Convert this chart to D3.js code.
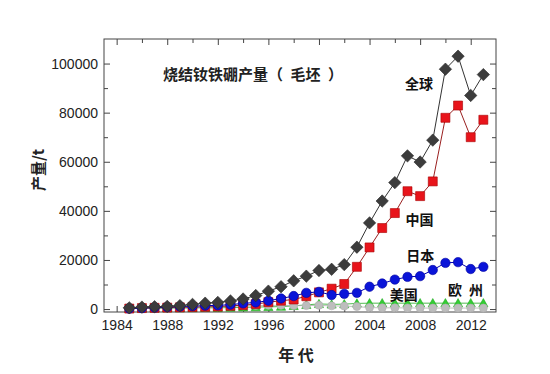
<!DOCTYPE html>
<html>
<head>
<meta charset="utf-8">
<script src="https://cdn.jsdelivr.net/npm/d3@7"></script>
<style>
html,body{margin:0;padding:0;background:#fff;}
svg{display:block;}
</style>
</head>
<body>
<svg id="chart" width="550" height="374"></svg>
<script>
const years = d3.range(1985, 2014);
const world = [500, 800, 950, 1100, 1400, 1900, 2400, 2700, 3300, 4100, 5500, 7300, 9100, 11500, 13400, 15700, 16200, 18100, 25200, 35100, 44000, 51500, 62400, 59900, 68800, 97700, 103000, 87000, 95500];
const china = [200, 400, 500, 600, 700, 800, 900, 1000, 1300, 1600, 2000, 2800, 3400, 3900, 5200, 6800, 8300, 10200, 17200, 25100, 33000, 39100, 48000, 46000, 52000, 77900, 82900, 70000, 77100];
const japan = [200, 400, 600, 800, 1000, 1200, 1400, 1500, 1800, 2300, 2700, 3400, 4300, 5300, 6600, 7000, 5700, 6200, 6600, 9100, 10400, 12000, 13100, 13400, 15900, 18800, 19100, 16300, 17200];
const usa = [200, 300, 400, 500, 600, 700, 800, 900, 1100, 1300, 1400, 1500, 1500, 1400, 1400, 1500, 1300, 1200, 1000, 600, 500, 500, 450, 400, 400, 400, 400, 400, 400];
const europe = [300, 300, 350, 400, 400, 450, 500, 500, 600, 700, 800, 900, 1000, 1300, 1700, 2100, 1900, 2000, 2300, 2400, 2400, 2400, 2400, 2400, 2400, 2400, 2400, 2400, 2400];
const yMajor = [0, 20000, 40000, 60000, 80000, 100000];
const yMinor = [10000, 30000, 50000, 70000, 90000];
const xMajor = [1984, 1988, 1992, 1996, 2000, 2004, 2008, 2012];
const xMinor = [1986, 1990, 1994, 1998, 2002, 2006, 2010];
const title = "烧结钕铁硼产量（\u2002毛坯\u2002）";
const xTitle = "年 代";
const yTitle = "产量/t";
const seriesLabels = [
  {text: "全球", year: 2006.8, value: 89800},
  {text: "中国", year: 2006.85, value: 34400},
  {text: "日本", year: 2006.9, value: 19600},
  {text: "美国", year: 2005.6, value: 3700},
  {text: "欧\u2002州", year: 2010.2, value: 5700}
];

const svg = d3.select("#chart");
const L = 104, R = 496, T = 39, B = 312;
const x = d3.scaleLinear().domain([1983, 2014]).range([L, R]);
const y = d3.scaleLinear().domain([-1200, 110000]).range([B, T]);
const axisColor = "#444";
const textColor = "#222";
const numFont = "'Liberation Sans', Arial, sans-serif";
const cjkFont = "'Noto Sans CJK SC', sans-serif";

function styleAxis(g) {
  g.select(".domain").remove();
  g.selectAll(".tick line").attr("stroke", axisColor).attr("stroke-width", 1);
  g.selectAll(".tick text").attr("fill", textColor).style("font-family", numFont).style("font-size", "14px");
}

svg.append("g").attr("transform", `translate(0,${B})`)
  .call(d3.axisBottom(x).tickValues(xMajor).tickFormat(d3.format("d")).tickSize(-6).tickPadding(8)).call(styleAxis);
svg.append("g").attr("transform", `translate(0,${B})`)
  .call(d3.axisBottom(x).tickValues(xMinor).tickFormat("").tickSize(-4)).call(styleAxis);
svg.append("g").attr("transform", `translate(0,${T})`)
  .call(d3.axisTop(x).tickValues(xMajor).tickFormat("").tickSize(-6)).call(styleAxis);
svg.append("g").attr("transform", `translate(0,${T})`)
  .call(d3.axisTop(x).tickValues(xMinor).tickFormat("").tickSize(-4)).call(styleAxis);
svg.append("g").attr("transform", `translate(${L},0)`)
  .call(d3.axisLeft(y).tickValues(yMajor).tickFormat(d3.format("d")).tickSize(-6).tickPadding(6)).call(styleAxis);
svg.append("g").attr("transform", `translate(${L},0)`)
  .call(d3.axisLeft(y).tickValues(yMinor).tickFormat("").tickSize(-4)).call(styleAxis);
svg.append("g").attr("transform", `translate(${R},0)`)
  .call(d3.axisRight(y).tickValues(yMajor).tickFormat("").tickSize(-6)).call(styleAxis);
svg.append("g").attr("transform", `translate(${R},0)`)
  .call(d3.axisRight(y).tickValues(yMinor).tickFormat("").tickSize(-4)).call(styleAxis);

svg.append("rect").attr("x", L).attr("y", T).attr("width", R - L).attr("height", B - T)
  .attr("fill", "none").attr("stroke", axisColor).attr("stroke-width", 1);

const line = d3.line().x((d, i) => x(years[i])).y(d => y(d));

const series = [
  {data: europe, shape: "triangle", fill: "#33cc33", stroke: "#22aa22", line: "#22aa22", lw: 0.8},
  {data: usa, shape: "circle", fill: "#bdbdbd", stroke: "#b0b0b0", line: "#b0b0b0", lw: 0.8, r: 4},
  {data: china, shape: "square", fill: "#e8141b", stroke: "#a80000", line: "#9a2020", lw: 1},
  {data: japan, shape: "circle", fill: "#0a14d8", stroke: "#0000a0", line: "#0000b0", lw: 1, r: 4.7},
  {data: world, shape: "diamond", fill: "#3c3c3c", stroke: "#2a2a2a", line: "#333", lw: 1}
];

function symbolPath(shape, r) {
  if (shape === "diamond") { const h = 6.2; return `M0,${-h}L${h},0L0,${h}L${-h},0Z`; }
  if (shape === "square") { const h = 4.5; return `M${-h},${-h}H${h}V${h}H${-h}Z`; }
  if (shape === "triangle") { const h = 4.6; return `M0,${-h}L${h},${h*0.8}L${-h},${h*0.8}Z`; }
  return d3.arc()({innerRadius: 0, outerRadius: r, startAngle: 0, endAngle: 2 * Math.PI});
}

series.forEach(s => {
  const g = svg.append("g");
  g.append("path").datum(s.data).attr("d", line).attr("fill", "none")
    .attr("stroke", s.line).attr("stroke-width", s.lw);
  g.selectAll("path.m").data(s.data).enter().append("path").attr("class", "m")
    .attr("transform", (d, i) => `translate(${x(years[i])},${y(d)})`)
    .attr("d", symbolPath(s.shape, s.r))
    .attr("fill", s.fill).attr("stroke", s.stroke).attr("stroke-width", 0.6);
});

svg.append("text").attr("x", 163).attr("y", 80).text(title)
  .style("white-space", "pre")
  .style("font-family", cjkFont).style("font-weight", "bold").style("font-size", "15px").attr("fill", textColor);

svg.selectAll("text.lab").data(seriesLabels).enter().append("text").attr("class", "lab")
  .attr("x", d => x(d.year)).attr("y", d => y(d.value)).text(d => d.text)
  .style("white-space", "pre")
  .style("font-family", cjkFont).style("font-weight", "bold").style("font-size", "14px")
  .attr("fill", "#111");

svg.append("text").attr("x", 296).attr("y", 361).attr("text-anchor", "middle").text(xTitle)
  .style("white-space", "pre")
  .style("font-family", cjkFont).style("font-weight", "bold").style("font-size", "16px").attr("fill", textColor);

svg.append("text").attr("transform", "translate(44,170) rotate(-90)").attr("text-anchor", "middle").text(yTitle)
  .style("font-family", cjkFont).style("font-weight", "bold").style("font-size", "15px").attr("fill", textColor);
</script>
</body>
</html>
